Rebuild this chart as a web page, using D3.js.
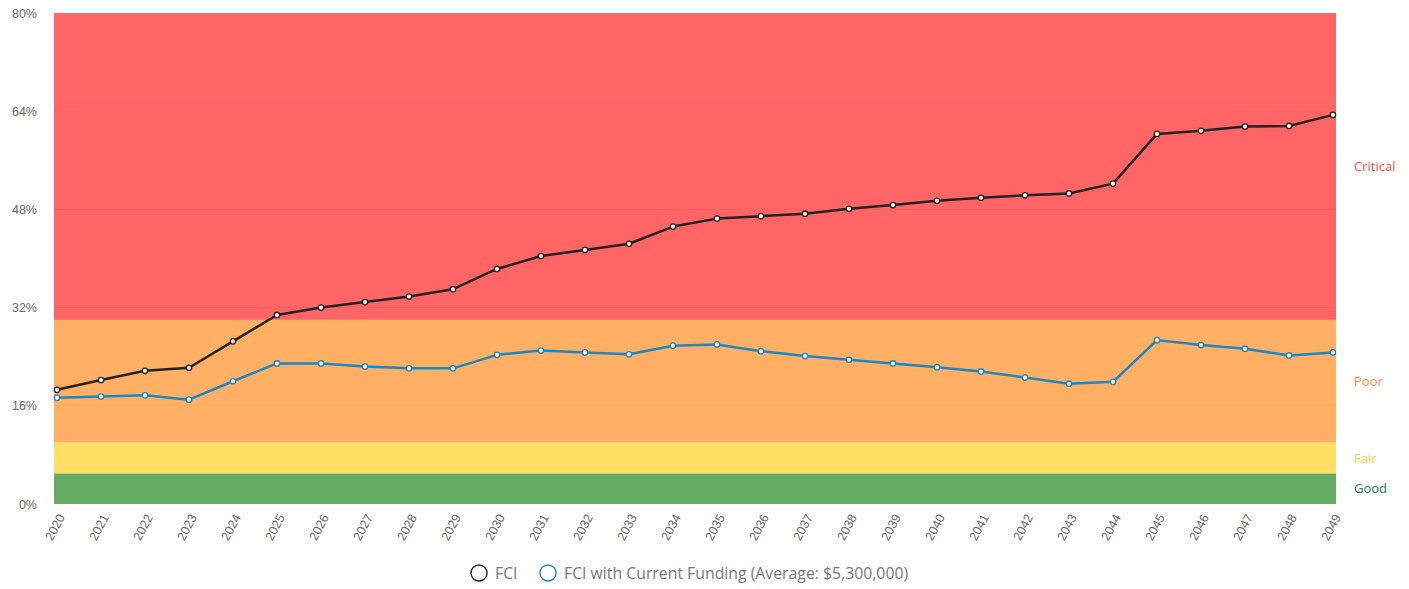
<!DOCTYPE html>
<html>
<head>
<meta charset="utf-8">
<script src="https://cdn.jsdelivr.net/npm/d3@7"></script>
<style>
  body { margin: 0; background: #fff; font-family: "Open Sans", sans-serif; }
  .tick text { fill: #666; }
</style>
</head>
<body>
<div id="chart"></div>
<script>
const years = ['2020','2021','2022','2023','2024','2025','2026','2027','2028','2029',
  '2030','2031','2032','2033','2034','2035','2036','2037','2038','2039',
  '2040','2041','2042','2043','2044','2045','2046','2047','2048','2049'];

const fci = [18.6, 20.2, 21.7, 22.2, 26.5, 30.8, 32.0, 32.9, 33.8, 35.0,
  38.3, 40.4, 41.4, 42.4, 45.2, 46.5, 46.9, 47.3, 48.1, 48.7,
  49.4, 49.9, 50.3, 50.6, 52.2, 60.3, 60.8, 61.5, 61.6, 63.4];

const fciFunded = [17.3, 17.5, 17.7, 17.0, 20.0, 22.9, 22.9, 22.4, 22.1, 22.1,
  24.3, 25.0, 24.7, 24.4, 25.8, 26.0, 24.9, 24.1, 23.5, 22.9,
  22.3, 21.6, 20.6, 19.6, 19.9, 26.7, 25.9, 25.3, 24.2, 24.7];

const bandNames = ['Good', 'Fair', 'Poor', 'Critical'];
const bandFrom = [0, 5, 10, 30];
const bandTo = [5, 10, 30, 80];
const bandFill = ['#66ac64', '#ffdf64', '#ffb064', '#ff6565'];
const bandText = ['#1b7a55', '#ffc83d', '#ff8a4c', '#ff4a4a'];

const yTicks = [0, 16, 32, 48, 64, 80];
const seriesNames = ['FCI', 'FCI with Current Funding (Average: $5,300,000)'];
const seriesColors = ['#222222', '#1a86c2'];

const W = 1409, H = 589;
const margin = {top: 13, right: 73, bottom: 85, left: 54};
const width = W - margin.left - margin.right;
const height = H - margin.top - margin.bottom;

const svg = d3.select('#chart').append('svg')
  .attr('width', W)
  .attr('height', H);
const g = svg.append('g')
  .attr('transform', 'translate(' + margin.left + ',' + margin.top + ')');

const x = d3.scalePoint()
  .domain(years)
  .range([3, width - 3]);
const y = d3.scaleLinear()
  .domain([0, 80])
  .range([height, 0]);

// condition bands
g.selectAll('rect.band')
  .data(bandNames)
  .enter()
  .append('rect')
  .attr('class', 'band')
  .attr('x', 0)
  .attr('width', width)
  .attr('y', (d, i) => y(bandTo[i]))
  .attr('height', (d, i) => y(bandFrom[i]) - y(bandTo[i]))
  .style('fill', (d, i) => bandFill[i]);

// faint grid lines
g.selectAll('line.grid')
  .data(yTicks.slice(1, -1))
  .enter()
  .append('line')
  .attr('x1', 0)
  .attr('x2', width)
  .attr('y1', d => y(d))
  .attr('y2', d => y(d))
  .style('stroke', 'rgba(0,0,0,0.035)')
  .style('stroke-width', 1);

// band labels on the right
g.selectAll('text.band-label')
  .data(bandNames)
  .enter()
  .append('text')
  .attr('x', width + 18)
  .attr('y', (d, i) => y((bandFrom[i] + bandTo[i]) / 2))
  .attr('dy', '0.35em')
  .style('font-size', '13px')
  .style('fill', (d, i) => bandText[i])
  .text(d => d);

// y axis
const yAxis = g.append('g')
  .call(d3.axisLeft(y).tickValues(yTicks).tickFormat(d => d + '%').tickSize(0).tickPadding(17));
yAxis.select('.domain').remove();
yAxis.selectAll('text').style('font-size', '12.5px');

// x axis
const xAxis = g.append('g')
  .attr('transform', 'translate(0,' + height + ')')
  .call(d3.axisBottom(x).tickSize(0));
xAxis.select('.domain').remove();
xAxis.selectAll('text')
  .style('font-size', '12.5px')
  .style('text-anchor', 'end')
  .attr('dy', '0.35em')
  .attr('transform', 'translate(4,11) rotate(-62)')
  .attr('y', 0)
  .attr('x', 0);

// lines
const allSeries = [fci, fciFunded];
const line = d3.line()
  .x((d, i) => x(years[i]))
  .y(d => y(d));

allSeries.forEach((values, s) => {
  g.append('path')
    .datum(values)
    .attr('d', line)
    .style('fill', 'none')
    .style('stroke', seriesColors[s])
    .style('stroke-width', 2.5)
    .style('stroke-linejoin', 'round');

  g.selectAll('circle.s' + s)
    .data(values)
    .enter()
    .append('circle')
    .attr('cx', (d, i) => x(years[i]))
    .attr('cy', d => y(d))
    .attr('r', 2.7)
    .style('fill', '#fff')
    .style('stroke', seriesColors[s])
    .style('stroke-width', 1.3);
});

// legend
const legend = svg.append('g')
  .attr('transform', 'translate(0,' + 573 + ')');
const item0 = legend.append('g').attr('transform', 'translate(479,0)');
item0.append('circle').attr('r', 8).style('fill', 'none').style('stroke', seriesColors[0]).style('stroke-width', 1.4);
item0.append('text').attr('x', 16).attr('dy', '0.35em').style('font-size', '15.8px').style('fill', '#777').text(seriesNames[0]);
const item1 = legend.append('g').attr('transform', 'translate(548,0)');
item1.append('circle').attr('r', 8).style('fill', 'none').style('stroke', seriesColors[1]).style('stroke-width', 1.4);
item1.append('text').attr('x', 16).attr('dy', '0.35em').style('font-size', '15.8px').style('fill', '#777').text(seriesNames[1]);
</script>
</body>
</html>
